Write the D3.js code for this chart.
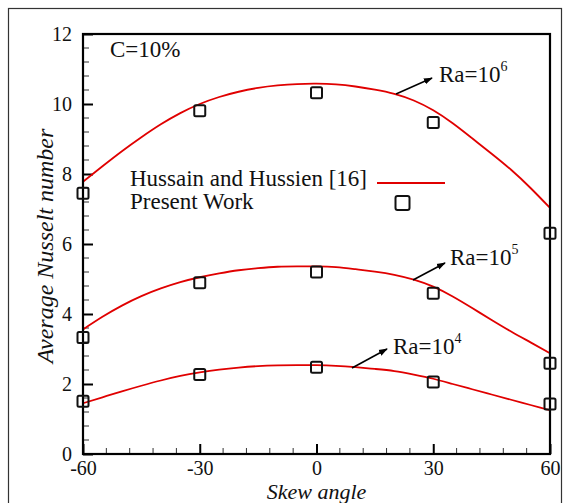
<!DOCTYPE html>
<html>
<head>
<meta charset="utf-8">
<script src="https://cdn.jsdelivr.net/npm/d3@7"></script>
<style>
  html, body { margin: 0; padding: 0; background: #fff; }
  svg { display: block; }
  svg text { font-family: "Liberation Serif", "Times New Roman", Times, "DejaVu Serif", serif; fill: #111; }
</style>
</head>
<body>
<svg id="chart" width="564" height="503"></svg>
<script>
// Skew angles where the present simulations were run
const markerAngles = [-60, -30, 0, 30, 60];
// Present work: average Nusselt number per Rayleigh number
const presentRa4 = [1.51, 2.27, 2.48, 2.06, 1.43];
const presentRa5 = [3.33, 4.89, 5.20, 4.59, 2.59];
const presentRa6 = [7.45, 9.81, 10.32, 9.47, 6.31];

// Hussain and Hussien [16] reference curves, sampled every 5 degrees
const curveAngles = [-60, -55, -50, -45, -40, -35, -30, -25, -20, -15, -10, -5, 0,
                     5, 10, 15, 20, 25, 30, 35, 40, 45, 50, 55, 60];
const refRa4 = [1.45, 1.62, 1.79, 1.95, 2.10, 2.23, 2.33, 2.41, 2.47, 2.51, 2.53, 2.54, 2.54,
                2.52, 2.48, 2.43, 2.37, 2.27, 2.15, 2.00, 1.85, 1.70, 1.55, 1.40, 1.25];
const refRa5 = [3.56, 3.92, 4.24, 4.51, 4.73, 4.91, 5.05, 5.16, 5.25, 5.31, 5.35, 5.36, 5.36,
                5.34, 5.28, 5.21, 5.12, 4.98, 4.78, 4.50, 4.17, 3.83, 3.50, 3.19, 2.88];
const refRa6 = [7.78, 8.22, 8.65, 9.05, 9.42, 9.74, 10.00, 10.20, 10.35, 10.46, 10.53, 10.57, 10.58,
                10.56, 10.50, 10.41, 10.29, 10.10, 9.82, 9.45, 9.02, 8.58, 8.12, 7.60, 7.03];

const xTicks = [-60, -30, 0, 30, 60];
const yTicks = [0, 2, 4, 6, 8, 10, 12];

const serif = "Liberation Serif";
const svg = d3.select("#chart").attr("font-family", serif);
const pLeft = 83, pRight = 550, pTop = 34, pBottom = 454;

const x = d3.scaleLinear().domain([-60, 60]).range([pLeft, pRight]);
const y = d3.scaleLinear().domain([0, 12]).range([pBottom, pTop]);

// outer frame of the figure
svg.append("rect")
  .attr("x", 8.5).attr("y", 8.5).attr("width", 553).attr("height", 510)
  .attr("fill", "none").attr("stroke", "#333").attr("stroke-width", 1.2);

// minor ticks
const xMinor = d3.range(-60, 60.01, 6).filter(d => d % 30 !== 0);
const yMinor = d3.range(0, 30).filter(i => i % 5 !== 0).map(i => i * 0.4);

svg.append("g").selectAll("line").data(xMinor).join("line")
  .attr("x1", d => x(d)).attr("x2", d => x(d))
  .attr("y1", pBottom).attr("y2", pBottom - 6)
  .attr("stroke", "#333").attr("stroke-width", 1);
svg.append("g").selectAll("line").data(yMinor).join("line")
  .attr("x1", pLeft).attr("x2", pLeft + 6)
  .attr("y1", d => y(d)).attr("y2", d => y(d))
  .attr("stroke", "#333").attr("stroke-width", 1);

// major ticks and labels through d3 axes (ticks pointing inward)
const xAxis = d3.axisBottom(x).tickValues(xTicks).tickSize(-10).tickPadding(10).tickFormat(d => String(d));
const gx = svg.append("g").attr("transform", `translate(0,${pBottom})`).call(xAxis)
  .attr("font-family", serif).attr("font-size", 20);
gx.select(".domain").remove();
gx.selectAll(".tick line").attr("stroke", "#000").attr("stroke-width", 2);
gx.selectAll(".tick text").attr("fill", "#111").attr("dy", "0.55em");

const yAxis = d3.axisLeft(y).tickValues(yTicks).tickSize(-10).tickPadding(11).tickFormat(d => String(d));
const gy = svg.append("g").attr("transform", `translate(${pLeft},0)`).call(yAxis)
  .attr("font-family", serif).attr("font-size", 20);
gy.select(".domain").remove();
gy.selectAll(".tick line").attr("stroke", "#000").attr("stroke-width", 2);
gy.selectAll(".tick text").attr("fill", "#111");

// reference curves
const line = d3.line().x(d => x(d[0])).y(d => y(d[1])).curve(d3.curveNatural);
[refRa4, refRa5, refRa6].forEach(vals => {
  svg.append("path")
    .datum(curveAngles.map((a, i) => [a, vals[i]]))
    .attr("d", line)
    .attr("fill", "none").attr("stroke", "#e00000").attr("stroke-width", 1.8);
});

// plot frame
svg.append("rect")
  .attr("x", pLeft).attr("y", pTop).attr("width", pRight - pLeft).attr("height", pBottom - pTop)
  .attr("fill", "none").attr("stroke", "#000").attr("stroke-width", 2.2);

// present work markers
const ms = 11;
[presentRa4, presentRa5, presentRa6].forEach(vals => {
  svg.append("g").selectAll("rect").data(markerAngles.map((a, i) => [a, vals[i]])).join("rect")
    .attr("x", d => x(d[0]) - ms / 2).attr("y", d => y(d[1]) - ms / 2)
    .attr("width", ms).attr("height", ms).attr("rx", 1.5)
    .attr("fill", "none").attr("stroke", "#111").attr("stroke-width", 2);
});

// annotation arrows and Rayleigh number labels
svg.append("defs").append("marker")
  .attr("id", "arrowhead").attr("viewBox", "0 0 10 10")
  .attr("refX", 9).attr("refY", 5).attr("markerWidth", 9).attr("markerHeight", 9)
  .attr("markerUnits", "userSpaceOnUse").attr("orient", "auto")
  .append("path").attr("d", "M0,1.5 L10,5 L0,8.5 Z").attr("fill", "#000");

const annotations = [
  { from: [396, 94], to: [432, 78], tx: 439, ty: 82, exp: "6" },
  { from: [413, 280], to: [445, 263], tx: 450, ty: 265, exp: "5" },
  { from: [352, 368], to: [387, 349], tx: 393, ty: 354, exp: "4" }
];
annotations.forEach(a => {
  svg.append("line")
    .attr("x1", a.from[0]).attr("y1", a.from[1]).attr("x2", a.to[0]).attr("y2", a.to[1])
    .attr("stroke", "#000").attr("stroke-width", 1.6).attr("marker-end", "url(#arrowhead)");
  const t = svg.append("text").attr("x", a.tx).attr("y", a.ty).attr("font-size", 23);
  t.append("tspan").text("Ra=10");
  t.append("tspan").text(a.exp).attr("font-size", 14).attr("dy", -11);
});

// text annotations
svg.append("text").attr("x", 110).attr("y", 57).attr("font-size", 23).text("C=10%");

// legend
svg.append("text").attr("x", 130).attr("y", 186).attr("font-size", 23).text("Hussain and Hussien [16]");
svg.append("text").attr("x", 130).attr("y", 209).attr("font-size", 23).text("Present Work");
svg.append("line").attr("x1", 377).attr("x2", 445).attr("y1", 183).attr("y2", 183)
  .attr("stroke", "#e00000").attr("stroke-width", 1.8);
svg.append("rect").attr("x", 395.5).attr("y", 196).attr("width", 14).attr("height", 14).attr("rx", 2)
  .attr("fill", "none").attr("stroke", "#111").attr("stroke-width", 2);

// axis titles
svg.append("text").attr("x", (pLeft + pRight) / 2).attr("y", 499)
  .attr("text-anchor", "middle").attr("font-size", 22).attr("font-style", "italic").text("Skew angle");
svg.append("text").attr("transform", `translate(53,246) rotate(-90)`)
  .attr("text-anchor", "middle").attr("font-size", 24).attr("font-style", "italic").text("Average Nusselt number");
</script>
</body>
</html>
